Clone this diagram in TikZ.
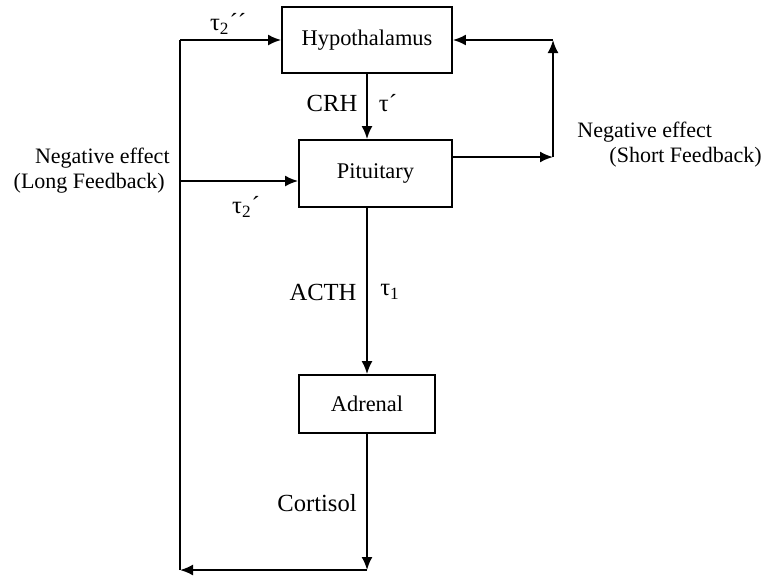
\documentclass[tikz,border=0pt]{standalone}
\usepackage{fontspec}
\setmainfont{Liberation Serif}
\usetikzlibrary{arrows.meta,positioning}

\begin{document}
\begin{tikzpicture}
[x=0.5pt,y=-0.5pt,
box/.style={shape=rectangle,draw,line width=.9pt,font=\fontsize{11.2}{13}\selectfont},
lab/.style={inner sep=0pt,font=\fontsize{12.3}{14}\selectfont},
note/.style={inner sep=0pt,font=\fontsize{11}{13}\selectfont},
myedge/.style={>={Latex[length=6.5pt,width=5.5pt]}, shorten >=.0pt, shorten <=.0pt,line width=1pt}]
\useasboundingbox (0,0) rectangle (764,575);
%%%%%%%%%%
%% glands
\node (hyp) [box,minimum width=85pt,minimum height=33pt] at (367,40) {Hypothalamus};
\node (pit) [box,minimum width=76.5pt,minimum height=33.5pt] at (375.5,173.5) {Pituitary};
\node (adr) [box,minimum width=68pt,minimum height=29pt] at (367,404) {Adrenal};
%% corner points
\coordinate (c1) at (367,570);
\coordinate (c2) at (180,570);
\coordinate (c3) at (180,40);
\coordinate (c4) at (180,181);
\coordinate (s1) at (553,157);
\coordinate (s2) at (553,40);
%% edges
\draw[myedge,->] (hyp.south) -- (hyp.south |- pit.north);
\draw[myedge,->] (adr.north |- pit.south) -- (adr.north);
\draw[myedge,->] (adr.south) -- (c1);
\draw[myedge,->] (c1) -- (c2);
\draw[myedge] (c2) -- (c3);
\draw[myedge,->] (c3) -- (hyp.west);
\draw[myedge,->] (c4) -- (pit.west |- c4);
%% short feedback
\draw[myedge,->] (pit.east |- s1) -- (s1);
\draw[myedge,->] (s1) -- (s2);
\draw[myedge,->] (s2) -- (hyp.east |- s2);
%% labels
\node (tau2b) [lab] at (228,24) {τ\textsubscript{2}´´};
\node (tau2a) [lab] at (246,207) {τ\textsubscript{2}´};
\node (crh) [lab] at (332,103) {CRH};
\node (taup) [lab] at (388,103) {τ´};
\node (acth) [lab] at (323,292) {ACTH};
\node (tau1) [lab] at (390,292) {τ\textsubscript{1}};
\node (cort) [lab] at (317,503) {Cortisol};
%% feedback notes
\node (neg1) [note,anchor=east] at (170,158) {Negative effect};
\node (long) [note,anchor=east] at (165,183) {(Long Feedback)};
\node (neg2) [note,anchor=west] at (577,132) {Negative effect};
\node (short) [note,anchor=east] at (762,157) {(Short Feedback)};
\end{tikzpicture}
\end{document}
